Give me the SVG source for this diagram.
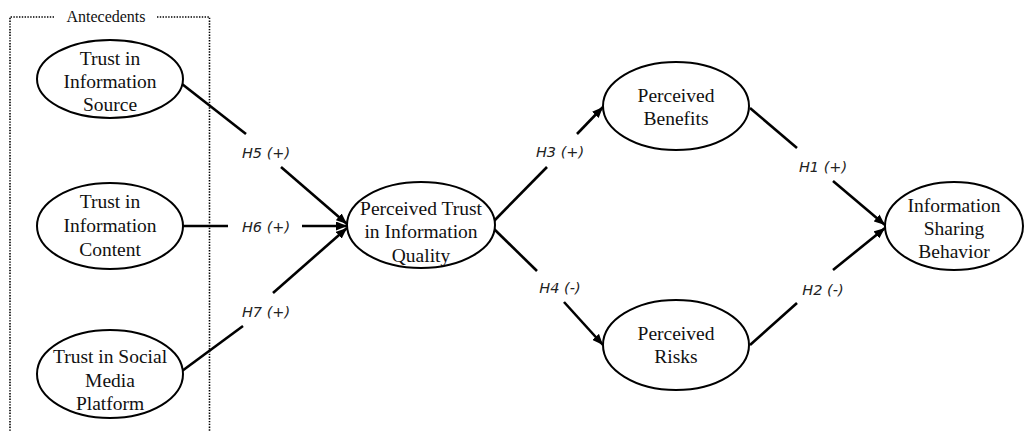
<svg xmlns="http://www.w3.org/2000/svg" width="1024" height="432" viewBox="0 0 1024 432">
<style>
.node ellipse{fill:#fff;stroke:#000;stroke-width:2}
.node text{font-family:"Liberation Serif","Times New Roman",serif;font-size:19.5px;fill:#111;text-anchor:middle}
.conn line{stroke:#000;stroke-width:2.6;fill:none}
.lbl{font-family:"DejaVu Sans",sans-serif;font-style:italic;font-size:14.5px;fill:#222;text-anchor:middle}
.box{fill:none;stroke:#000;stroke-width:1.6;stroke-dasharray:1.4 1.4}
.title{font-family:"Liberation Serif","Times New Roman",serif;font-size:16px;fill:#111;text-anchor:middle}
</style>
<defs>
<marker id="arr" markerUnits="userSpaceOnUse" markerWidth="11" markerHeight="9" refX="11" refY="4.5" orient="auto">
<path d="M0,0 L11,4.5 L0,9 z" fill="#000"/>
</marker>
</defs>
<rect width="1024" height="432" fill="#fff"/>
<g id="antecedents">
<path class="box" d="M54,17 H10 V440 M157,17 H209.5 V440"/>
<text class="title" x="106" y="22">Antecedents</text>
</g>
<g id="connectors" class="conn">
<line x1="182" y1="84" x2="246" y2="134"/>
<line x1="281" y1="167" x2="347" y2="224" marker-end="url(#arr)"/>
<line x1="183" y1="226" x2="228" y2="226"/>
<line x1="302" y1="226" x2="347" y2="226" marker-end="url(#arr)"/>
<line x1="182" y1="371" x2="243" y2="326"/>
<line x1="273" y1="293" x2="347" y2="228" marker-end="url(#arr)"/>
<line x1="493" y1="222" x2="547" y2="167"/>
<line x1="577" y1="134" x2="603" y2="107" marker-end="url(#arr)"/>
<line x1="493" y1="228" x2="537" y2="271"/>
<line x1="564" y1="302" x2="603" y2="345" marker-end="url(#arr)"/>
<line x1="750" y1="108" x2="797" y2="148"/>
<line x1="833" y1="181" x2="885" y2="225" marker-end="url(#arr)"/>
<line x1="750" y1="345" x2="797" y2="303"/>
<line x1="833" y1="270" x2="885" y2="228" marker-end="url(#arr)"/>
</g>
<g id="labels">
<text class="lbl" x="266" y="158">H5 (+)</text>
<text class="lbl" x="266" y="232">H6 (+)</text>
<text class="lbl" x="266" y="317">H7 (+)</text>
<text class="lbl" x="560" y="157">H3 (+)</text>
<text class="lbl" x="560" y="293">H4 (-)</text>
<text class="lbl" x="823" y="172">H1 (+)</text>
<text class="lbl" x="823" y="295">H2 (-)</text>
</g>
<g id="trust-source" class="node">
<ellipse cx="110" cy="79" rx="73" ry="39"/>
<text x="110" y="65">Trust in</text>
<text x="110" y="88">Information</text>
<text x="110" y="111">Source</text>
</g>
<g id="trust-content" class="node">
<ellipse cx="110" cy="226" rx="73" ry="43"/>
<text x="110" y="208">Trust in</text>
<text x="110" y="232">Information</text>
<text x="110" y="256">Content</text>
</g>
<g id="trust-platform" class="node">
<ellipse cx="110" cy="374" rx="73" ry="44"/>
<text x="110" y="363">Trust in Social</text>
<text x="110" y="387">Media</text>
<text x="110" y="410">Platform</text>
</g>
<g id="trust-quality" class="node">
<ellipse cx="421" cy="225" rx="74" ry="43"/>
<text x="421" y="215">Perceived Trust</text>
<text x="421" y="238">in Information</text>
<text x="421" y="262">Quality</text>
</g>
<g id="benefits" class="node">
<ellipse cx="676" cy="106" rx="73" ry="44"/>
<text x="676" y="102">Perceived</text>
<text x="676" y="125">Benefits</text>
</g>
<g id="risks" class="node">
<ellipse cx="676" cy="345" rx="73" ry="45"/>
<text x="676" y="340">Perceived</text>
<text x="676" y="363">Risks</text>
</g>
<g id="sharing" class="node">
<ellipse cx="954" cy="226" rx="69" ry="44"/>
<text x="954" y="212">Information</text>
<text x="954" y="235">Sharing</text>
<text x="954" y="258">Behavior</text>
</g>
</svg>
